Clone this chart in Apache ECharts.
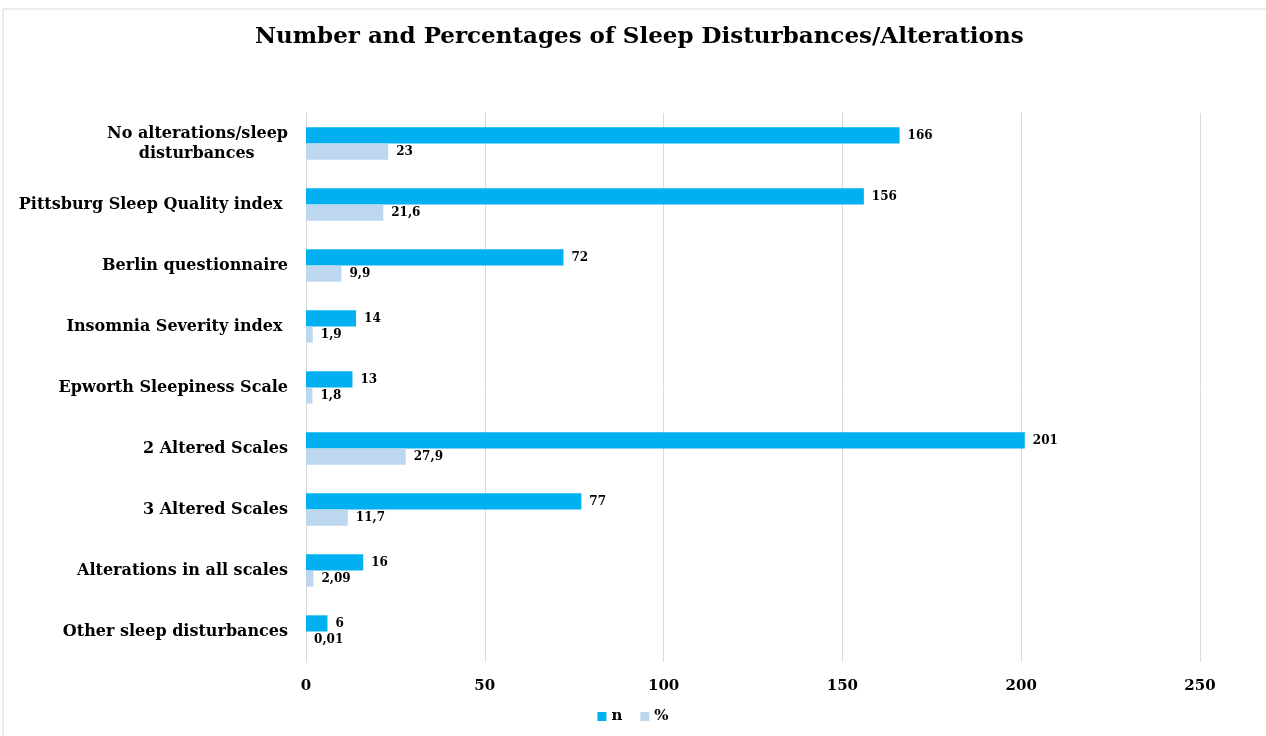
<!DOCTYPE html>
<html>
<head>
<meta charset="utf-8">
<script src="https://cdn.jsdelivr.net/npm/echarts@6/dist/echarts.min.js"></script>
<style>
  html, body { margin: 0; padding: 0; background: #fff; }
  #graph { width: 1266px; height: 736px; }
</style>
</head>
<body>
<div id="graph"></div>
<script>
var categories = ['No alterations/sleep\ndisturbances      ', 'Pittsburg Sleep Quality index ', 'Berlin questionnaire',
  'Insomnia Severity index ', 'Epworth Sleepiness Scale', '2 Altered Scales', '3 Altered Scales',
  'Alterations in all scales', 'Other sleep disturbances'];
var nValues = [166, 156, 72, 14, 13, 201, 77, 16, 6];
var pctValues = [23, 21.6, 9.9, 1.9, 1.8, 27.9, 11.7, 2.09, 0.01];
var xTicks = [0, 50, 100, 150, 200, 250];

var dom = document.getElementById('graph');
var myChart = echarts.init(dom);
var font = '"DejaVu Serif", "Liberation Serif", serif';

function commaLabel(p) {
  return String(p.value).replace('.', ',');
}

var option = {
  animation: false,
  color: ['#00b0f0', '#bdd7ee'],
  textStyle: { fontFamily: font },
  graphic: [{
    type: 'rect',
    shape: { x: 3, y: 9, width: 1300, height: 760 },
    style: { fill: 'none', stroke: '#d9d9d9', lineWidth: 1 },
    silent: true
  }],
  title: {
    text: 'Number and Percentages of Sleep Disturbances/Alterations',
    left: 250,
    top: 21,
    textStyle: { fontFamily: font, fontWeight: 'bold', fontSize: 23, color: '#000' }
  },
  legend: {
    data: ['n', '%'],
    bottom: 7,
    left: 'center',
    itemWidth: 9,
    itemHeight: 9,
    itemGap: 18,
    icon: 'rect',
    textStyle: { fontFamily: font, fontWeight: 'bold', fontSize: 15, color: '#000' }
  },
  grid: { left: 306, right: 66, top: 113, bottom: 74 },
  xAxis: {
    type: 'value',
    min: xTicks[0],
    max: xTicks[xTicks.length - 1],
    interval: 50,
    axisLine: { show: false },
    axisTick: { show: false },
    axisLabel: { margin: 17, fontFamily: font, fontWeight: 'bold', fontSize: 15, color: '#000' },
    splitLine: { lineStyle: { color: '#d9d9d9' } }
  },
  yAxis: {
    type: 'category',
    inverse: true,
    data: categories,
    axisLine: { lineStyle: { color: '#d9d9d9' } },
    axisTick: { show: false },
    axisLabel: { margin: 18, fontFamily: font, fontWeight: 'bold', fontSize: 16, color: '#000', lineHeight: 20, align: 'right' }
  },
  series: [{
    name: 'n',
    type: 'bar',
    data: nValues,
    barGap: '0%',
    barCategoryGap: '47%',
    label: { show: true, position: 'right', distance: 8, fontFamily: font, fontWeight: 'bold', fontSize: 12, color: '#000', formatter: commaLabel }
  }, {
    name: '%',
    type: 'bar',
    data: pctValues,
    label: { show: true, position: 'right', distance: 8, fontFamily: font, fontWeight: 'bold', fontSize: 12, color: '#000', formatter: commaLabel }
  }]
};
myChart.setOption(option);
</script>
</body>
</html>
